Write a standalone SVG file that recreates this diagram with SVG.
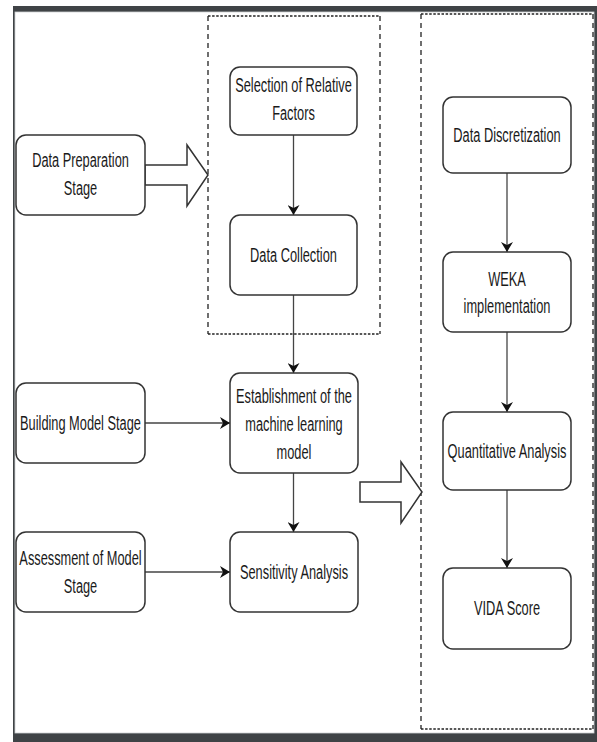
<svg xmlns="http://www.w3.org/2000/svg" width="597" height="742" viewBox="0 0 597 742">
<style>
.box{fill:#fff;stroke:#333;stroke-width:1.5}
.lbl{font-family:"Liberation Sans",Arial,sans-serif;font-size:20px;fill:#1a1a1a;text-anchor:middle}
.con{stroke:#444;stroke-width:1.3;fill:none;marker-end:url(#ah)}
.hdash{stroke:#222;stroke-width:1.3;stroke-dasharray:2.5 1.6;fill:none}
.vdash{stroke:#222;stroke-width:1.3;stroke-dasharray:5 4;fill:none}
.hollow{fill:#fff;stroke:#333;stroke-width:1.5;stroke-linejoin:miter}
</style>
<defs>
<marker id="ah" viewBox="0 0 10 12" refX="10" refY="6" markerWidth="10" markerHeight="12" markerUnits="userSpaceOnUse" orient="auto">
<path d="M0,0 L10,6 L0,12 L3,6 Z" fill="#111"/>
</marker>
</defs>
<rect x="13" y="6" width="584" height="736" fill="#3f4346"/>
<rect x="15" y="12" width="579" height="721" fill="#fff" stroke="#cfd2d4" stroke-width="0.8"/>

<g id="group-left">
<path class="hdash" d="M208,16 H380 M208,334 H380"/>
<path class="vdash" d="M208,16 V334 M380,16 V334"/>
</g>
<g id="group-right">
<path class="hdash" d="M421,14 H593 M421,729 H593"/>
<path class="vdash" d="M421,14 V729 M593,14 V729"/>
</g>

<g id="connectors">
<line class="con" x1="293.5" y1="135" x2="293.5" y2="215"/>
<line class="con" x1="293.5" y1="295" x2="293.5" y2="373"/>
<line class="con" x1="293.5" y1="473" x2="293.5" y2="532"/>
<line class="con" x1="145" y1="423" x2="230" y2="423"/>
<line class="con" x1="145" y1="572" x2="230" y2="572"/>
<line class="con" x1="507" y1="173" x2="507" y2="252"/>
<line class="con" x1="507" y1="332" x2="507" y2="412"/>
<line class="con" x1="507" y1="490" x2="507" y2="568"/>
<polygon class="hollow" points="145,165 187,165 187,145 208,175 187,206 187,185 145,185"/>
<polygon class="hollow" points="360,482 401,482 401,462 422,492 401,523 401,502 360,502"/>
</g>

<g id="data-preparation-stage">
<rect class="box" x="16" y="135" width="129" height="80" rx="10"/>
<g transform="translate(80.5,0) scale(0.64,1)">
<text class="lbl" x="0" y="167.5">Data Preparation</text>
<text class="lbl" x="0" y="195.5">Stage</text>
</g>
</g>
<g id="selection-of-relative-factors">
<rect class="box" x="230" y="67" width="127" height="68" rx="10"/>
<g transform="translate(293.5,0) scale(0.64,1)">
<text class="lbl" x="0" y="92">Selection of Relative</text>
<text class="lbl" x="0" y="120">Factors</text>
</g>
</g>
<g id="data-collection">
<rect class="box" x="230" y="215" width="127" height="80" rx="10"/>
<g transform="translate(293.5,0) scale(0.64,1)">
<text class="lbl" x="0" y="262">Data Collection</text>
</g>
</g>
<g id="building-model-stage">
<rect class="box" x="16" y="383" width="129" height="80" rx="10"/>
<g transform="translate(80.5,0) scale(0.64,1)">
<text class="lbl" x="0" y="430">Building Model Stage</text>
</g>
</g>
<g id="establishment">
<rect class="box" x="230" y="373" width="128" height="100" rx="10"/>
<g transform="translate(294,0) scale(0.64,1)">
<text class="lbl" x="0" y="403">Establishment of the</text>
<text class="lbl" x="0" y="431">machine learning</text>
<text class="lbl" x="0" y="459">model</text>
</g>
</g>
<g id="assessment-of-model-stage">
<rect class="box" x="16" y="532" width="129" height="80" rx="10"/>
<g transform="translate(80.5,0) scale(0.64,1)">
<text class="lbl" x="0" y="565">Assessment of Model</text>
<text class="lbl" x="0" y="593">Stage</text>
</g>
</g>
<g id="sensitivity-analysis">
<rect class="box" x="230" y="532" width="128" height="80" rx="10"/>
<g transform="translate(294,0) scale(0.64,1)">
<text class="lbl" x="0" y="579">Sensitivity Analysis</text>
</g>
</g>
<g id="data-discretization">
<rect class="box" x="443" y="97" width="128" height="76" rx="10"/>
<g transform="translate(507,0) scale(0.64,1)">
<text class="lbl" x="0" y="142">Data Discretization</text>
</g>
</g>
<g id="weka-implementation">
<rect class="box" x="443" y="252" width="128" height="80" rx="10"/>
<g transform="translate(507,0) scale(0.64,1)">
<text class="lbl" x="0" y="286">WEKA</text>
<text class="lbl" x="0" y="313">implementation</text>
</g>
</g>
<g id="quantitative-analysis">
<rect class="box" x="443" y="412" width="128" height="78" rx="10"/>
<g transform="translate(507,0) scale(0.64,1)">
<text class="lbl" x="0" y="458">Quantitative Analysis</text>
</g>
</g>
<g id="vida-score">
<rect class="box" x="443" y="568" width="128" height="81" rx="10"/>
<g transform="translate(507,0) scale(0.64,1)">
<text class="lbl" x="0" y="615.5">VIDA Score</text>
</g>
</g>
</svg>
